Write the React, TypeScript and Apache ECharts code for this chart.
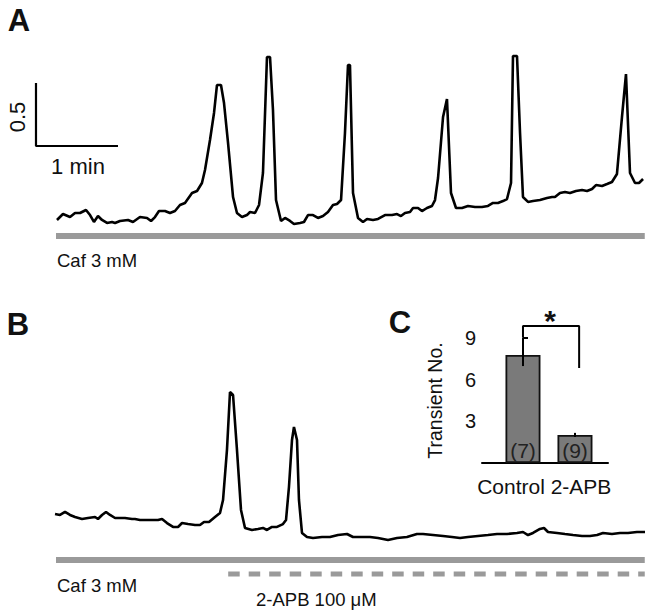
import React, { useEffect, useRef } from "react";
import * as echarts from "echarts";

// ---------- Panel A trace (time in min, ratio units) ----------
const traceATime = [0.012,0.085,0.171,0.232,0.293,0.366,0.415,0.463,0.512,0.561,0.622,0.683,0.72,0.78,0.878,0.939,1.024,1.11,1.159,1.207,1.256,1.329,1.39,1.451,1.512,1.573,1.659,1.72,1.78,1.817,1.878,1.927,1.963,2.012,2.049,2.098,2.159,2.207,2.268,2.329,2.366,2.427,2.476,2.524,2.573,2.61,2.646,2.683,2.744,2.793,2.854,2.902,2.976,3.024,3.073,3.134,3.195,3.256,3.317,3.378,3.427,3.476,3.524,3.561,3.585,3.622,3.683,3.744,3.793,3.866,3.927,4.012,4.098,4.159,4.207,4.256,4.317,4.354,4.415,4.463,4.524,4.585,4.622,4.659,4.72,4.768,4.817,4.878,4.951,5.024,5.11,5.195,5.268,5.329,5.39,5.451,5.5,5.549,5.573,5.622,5.659,5.695,5.756,5.817,5.902,5.988,6.049,6.085,6.146,6.207,6.268,6.341,6.415,6.476,6.537,6.585,6.659,6.72,6.78,6.841,6.902,6.951,7.0,7.061,7.11,7.159];
const traceARatio = [0.04,0.087,0.063,0.095,0.095,0.119,0.079,0.024,0.071,0.04,0.016,0.024,0.016,0.032,0.04,0.024,0.063,0.056,0.032,0.063,0.111,0.111,0.095,0.111,0.159,0.175,0.254,0.27,0.333,0.437,0.675,0.889,1.111,1.111,0.968,0.651,0.222,0.095,0.063,0.079,0.103,0.095,0.159,0.413,1.333,1.333,0.913,0.198,0.032,0.056,0.032,0.008,0.016,0.024,0.079,0.079,0.056,0.071,0.103,0.159,0.167,0.198,0.73,1.27,1.27,0.254,0.056,0.024,0.048,0.04,0.048,0.079,0.079,0.087,0.071,0.095,0.103,0.135,0.135,0.111,0.135,0.151,0.198,0.373,0.857,1.0,0.254,0.135,0.135,0.151,0.143,0.143,0.151,0.175,0.175,0.19,0.206,0.333,1.341,1.341,0.73,0.222,0.183,0.19,0.198,0.214,0.222,0.222,0.254,0.262,0.254,0.27,0.278,0.27,0.286,0.317,0.31,0.325,0.341,0.405,0.857,1.198,0.413,0.333,0.333,0.365];

// ---------- Panel B trace ----------
const traceBTime = [-0.012,0.049,0.11,0.171,0.232,0.317,0.39,0.476,0.512,0.561,0.61,0.659,0.72,0.841,0.927,0.963,1.024,1.11,1.244,1.293,1.354,1.427,1.488,1.537,1.61,1.695,1.756,1.805,1.866,1.939,2.0,2.037,2.085,2.122,2.159,2.207,2.256,2.305,2.39,2.463,2.524,2.573,2.634,2.695,2.768,2.805,2.841,2.878,2.902,2.939,2.963,3.0,3.061,3.134,3.244,3.341,3.439,3.549,3.622,3.732,3.829,3.927,4.049,4.159,4.28,4.402,4.476,4.598,4.72,4.829,4.927,5.024,5.146,5.268,5.378,5.5,5.622,5.695,5.756,5.817,5.902,5.951,6.0,6.11,6.207,6.305,6.415,6.512,6.598,6.671,6.78,6.878,6.976,7.085,7.183];
const traceBRatio = [0.278,0.27,0.294,0.27,0.254,0.238,0.246,0.254,0.238,0.27,0.294,0.27,0.246,0.246,0.238,0.238,0.23,0.23,0.23,0.238,0.206,0.175,0.175,0.206,0.198,0.19,0.19,0.214,0.214,0.254,0.286,0.389,0.786,1.246,1.222,0.786,0.31,0.167,0.151,0.159,0.167,0.151,0.175,0.175,0.198,0.23,0.492,0.865,0.968,0.865,0.389,0.127,0.095,0.087,0.095,0.095,0.111,0.119,0.095,0.095,0.095,0.087,0.071,0.087,0.095,0.119,0.119,0.111,0.103,0.095,0.087,0.095,0.103,0.111,0.119,0.119,0.127,0.135,0.111,0.127,0.159,0.167,0.135,0.127,0.119,0.111,0.103,0.103,0.111,0.127,0.119,0.127,0.127,0.135,0.135];

// ---------- Drug application periods (min) ----------
const caffeineWindow = [0, 7.18];
const apbWindow = [2.1, 7.18];
const caffeineLevel = -0.087; // ratio-axis level where the application bar is drawn
const apbLevel = -0.198;

// ---------- Scale bar ----------
const scaleBarOrigin = [-0.244, 0.627];
const scaleBarMinutes = 1;
const scaleBarRatio = 0.5;

// ---------- Panel C ----------
const groups = ["Control", "2-APB"];
const transientMean = [7.78, 2.02];
const transientErr = [0.8, 0.15];
const cellCounts = [7, 9];
const yTicksC = [0, 3, 6, 9];
const bracketX = [0, 0, 1.08, 1.08];
const bracketY = [9.07, 9.86, 9.86, 6.84];

const FONT = "'Liberation Sans', Arial, Helvetica, sans-serif";
const GRAY = "#9a9a9a";

function zip(a: number[], b: number[]) {
  return a.map((v, i) => [v, b[i]]);
}

export default function App() {
  const ref = useRef<HTMLDivElement>(null);
  useEffect(() => {
    document.body.style.margin = "0";
    const chart = echarts.init(ref.current!, null, { renderer: "svg" });
    const traceX = { type: "value", min: -0.3, max: 7.2, show: false };
    const text = (t: string, x: number, y: number, size: number, extra: any = {}) => ({
      type: "text",
      x,
      y,
      rotation: extra.rotation || 0,
      style: {
        text: t,
        font: `${extra.bold ? "bold " : ""}${size}px ${FONT}`,
        fill: extra.color || "#111",
        textAlign: extra.align || "center",
        textVerticalAlign: "middle",
      },
    });
    const option: any = {
      animation: false,
      backgroundColor: "#fff",
      grid: [
        { left: 31.4, top: 42.3, width: 615, height: 201.6 },
        { left: 31.4, top: 378.9, width: 615, height: 201.6 },
        { left: 482, top: 338, width: 126, height: 125 },
      ],
      xAxis: [
        { ...traceX, gridIndex: 0 },
        { ...traceX, gridIndex: 1 },
        {
          type: "value",
          gridIndex: 2,
          min: -0.788,
          max: 1.635,
          axisLine: { show: true, lineStyle: { color: "#000", width: 2 } },
          axisTick: { show: false },
          axisLabel: { show: false },
          splitLine: { show: false },
        },
      ],
      yAxis: [
        { type: "value", gridIndex: 0, min: -0.15, max: 1.45, show: false },
        { type: "value", gridIndex: 1, min: -0.25, max: 1.35, show: false },
        {
          type: "value",
          gridIndex: 2,
          min: yTicksC[0],
          max: yTicksC[yTicksC.length - 1],
          interval: 3,
          name: "Transient No.",
          nameLocation: "middle",
          nameGap: 37,
          nameTextStyle: { fontFamily: FONT, fontSize: 19.5, color: "#111" },
          axisLine: { show: true, lineStyle: { color: "#000", width: 2 } },
          axisTick: { show: true, inside: true, length: 5, lineStyle: { color: "#000", width: 2 } },
          axisLabel: {
            fontFamily: FONT,
            fontSize: 20,
            color: "#111",
            margin: 6,
            formatter: (v: number) => (v === 0 ? "" : String(v)),
          },
          splitLine: { show: false },
        },
      ],
      series: [
        {
          type: "line",
          xAxisIndex: 0,
          yAxisIndex: 0,
          data: zip(traceATime, traceARatio),
          showSymbol: false,
          lineStyle: { color: "#000", width: 2.6 },
          z: 5,
        },
        {
          type: "line",
          xAxisIndex: 0,
          yAxisIndex: 0,
          data: caffeineWindow.map((t) => [t, caffeineLevel]),
          showSymbol: false,
          lineStyle: { color: GRAY, width: 6 },
        },
        {
          type: "line",
          xAxisIndex: 0,
          yAxisIndex: 0,
          clip: false,
          data: [
            [scaleBarOrigin[0], scaleBarOrigin[1] + scaleBarRatio],
            [scaleBarOrigin[0], scaleBarOrigin[1]],
            [scaleBarOrigin[0] + scaleBarMinutes, scaleBarOrigin[1]],
          ],
          showSymbol: false,
          lineStyle: { color: "#000", width: 2.2 },
        },
        {
          type: "line",
          xAxisIndex: 1,
          yAxisIndex: 1,
          data: zip(traceBTime, traceBRatio),
          showSymbol: false,
          lineStyle: { color: "#000", width: 2.6 },
          z: 5,
        },
        {
          type: "line",
          xAxisIndex: 1,
          yAxisIndex: 1,
          data: caffeineWindow.map((t) => [t, caffeineLevel]),
          showSymbol: false,
          lineStyle: { color: GRAY, width: 6 },
        },
        {
          type: "line",
          xAxisIndex: 1,
          yAxisIndex: 1,
          clip: false,
          data: apbWindow.map((t) => [t, apbLevel]),
          showSymbol: false,
          lineStyle: { color: GRAY, width: 5, type: [11.5, 9] },
        },
        {
          type: "bar",
          xAxisIndex: 2,
          yAxisIndex: 2,
          barWidth: 35,
          data: transientMean.map((m, i) => [i, m]),
          itemStyle: { color: "#7a7a7a", borderColor: "#111", borderWidth: 1.8 },
          label: {
            show: true,
            position: "insideBottom",
            distance: 2,
            fontFamily: FONT,
            fontSize: 21,
            color: "#222",
            formatter: (p: any) => `(${cellCounts[p.dataIndex]})`,
          },
        },
        {
          type: "custom",
          xAxisIndex: 2,
          yAxisIndex: 2,
          data: transientMean.map((m, i) => [i, m - transientErr[i], m + transientErr[i]]),
          renderItem: (params: any, api: any) => {
            const lo = api.coord([api.value(0), api.value(1)]);
            const hi = api.coord([api.value(0), api.value(2)]);
            return {
              type: "line",
              shape: { x1: lo[0], y1: lo[1], x2: hi[0], y2: hi[1] },
              style: { stroke: "#000", lineWidth: 2 },
            };
          },
          z: 10,
        },
        {
          type: "line",
          xAxisIndex: 2,
          yAxisIndex: 2,
          clip: false,
          data: zip(bracketX, bracketY),
          showSymbol: false,
          lineStyle: { color: "#000", width: 2 },
        },
      ],
      graphic: [
        text("A", 19, 20, 31, { bold: true }),
        text("B", 18, 324, 31, { bold: true }),
        text("C", 400, 322, 31, { bold: true }),
        text("0.5", 17, 117, 22, { rotation: Math.PI / 2 }),
        text("1 min", 78, 166, 22),
        text("Caf 3 mM", 57, 260, 18.5, { align: "left" }),
        text("Caf 3 mM", 57, 585, 18.5, { align: "left" }),
        text("2-APB 100 μM", 256, 599, 18.5, { align: "left" }),
        text(groups[0], 511, 486, 21),
        text(groups[1], 581, 486, 21),
        text("*", 550, 320, 30, { bold: true }),
      ],
    };
    chart.setOption(option);
    return () => chart.dispose();
  }, []);
  return <div ref={ref} style={{ width: 653, height: 615 }} />;
}
